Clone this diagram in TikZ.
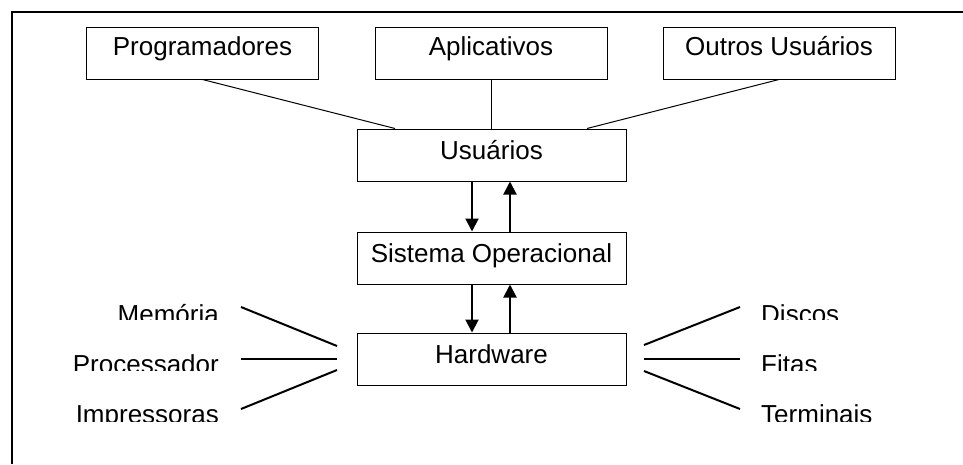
\documentclass[tikz,border=0pt]{standalone}
\usepackage{fontspec}
\setmainfont{Liberation Sans}
\usetikzlibrary{arrows.meta,calc}

\begin{document}
\begin{tikzpicture}[x=1pt,y=-1pt,
  box/.style={draw, line width=1pt, inner xsep=0pt, inner ysep=0pt, anchor=base,
    font=\fontsize{26}{30}\selectfont},
  toprow/.style={box, minimum width=232pt, text height=28pt, text depth=24pt},
  midrow/.style={box, minimum width=269pt, text height=30.5pt, text depth=21.5pt},
  link/.style={line width=1pt},
  flow/.style={line width=2pt, -{Triangle[length=13pt,width=13pt]}},
  spoke/.style={line width=2pt},
  part/.style={inner sep=0pt, font=\fontsize{26}{30}\selectfont},
]
\useasboundingbox (0,0) rectangle (963,464);

% frame
\draw[line width=2pt] (12,464) -- (12,12) -- (963,12);

% user groups
\node[toprow] (prog)   at (202.5,55) {Programadores};
\node[toprow] (apl)    at (491,55)   {Aplicativos};
\node[toprow] (outros) at (779,55)   {Outros Usuários};

% layers
\node[midrow] (usu) at (491.5,159.5) {Usuários};
\node[midrow] (so)  at (491.5,262.5) {Sistema Operacional};
\node[midrow] (hw)  at (491.5,363.5) {Hardware};

% groups to users
\draw[link] (prog.south) -- ([xshift=-96.5pt]usu.north);
\draw[link] (apl.south) -- (apl.south |- usu.north);
\draw[link] (outros.south) -- ([xshift=95.5pt]usu.north);

% requests and answers between layers
\draw[flow] ([xshift=-19.5pt]usu.south) -- ([xshift=-19.5pt]so.north);
\draw[flow] ([xshift=18.5pt]so.north) -- ([xshift=18.5pt]usu.south);
\draw[flow] ([xshift=-19.5pt]so.south) -- ([xshift=-19.5pt]hw.north);
\draw[flow] ([xshift=18.5pt]hw.north) -- ([xshift=18.5pt]so.south);

% hardware parts
\begin{scope}
  \clip (40,296) rectangle (240,319.3);
  \node[part, anchor=base east] (mem) at (219,323.6) {Memória};
\end{scope}
\begin{scope}
  \clip (40,347) rectangle (240,370);
  \node[part, anchor=base east] (proc) at (219,373.6) {Processador};
\end{scope}
\begin{scope}
  \clip (40,397) rectangle (240,421);
  \node[part, anchor=base east] (imp) at (219,423.6) {Impressoras};
\end{scope}
\begin{scope}
  \clip (750,296) rectangle (960,319.3);
  \node[part, anchor=base west] (disc) at (761,323.6) {Discos};
\end{scope}
\begin{scope}
  \clip (750,347) rectangle (960,370);
  \node[part, anchor=base west] (fit) at (761,373.6) {Fitas};
\end{scope}
\begin{scope}
  \clip (750,397) rectangle (960,421);
  \node[part, anchor=base west] (term) at (761,423.6) {Terminais};
\end{scope}

% spokes around the hardware
\coordinate (memA)  at (241,307);  \coordinate (memB)  at (337,346);
\coordinate (procA) at (241,359);  \coordinate (procB) at (337,359);
\coordinate (impA)  at (241,409);  \coordinate (impB)  at (337,370);
\coordinate (discA) at (644,345);  \coordinate (discB) at (740,307);
\coordinate (fitA)  at (644,359);  \coordinate (fitB)  at (740,359);
\coordinate (termA) at (644,371);  \coordinate (termB) at (740,409);
\draw[spoke] (memA) -- (memB);
\draw[spoke] (procA) -- (procB);
\draw[spoke] (impA) -- (impB);
\draw[spoke] (discA) -- (discB);
\draw[spoke] (fitA) -- (fitB);
\draw[spoke] (termA) -- (termB);
\end{tikzpicture}
\end{document}
